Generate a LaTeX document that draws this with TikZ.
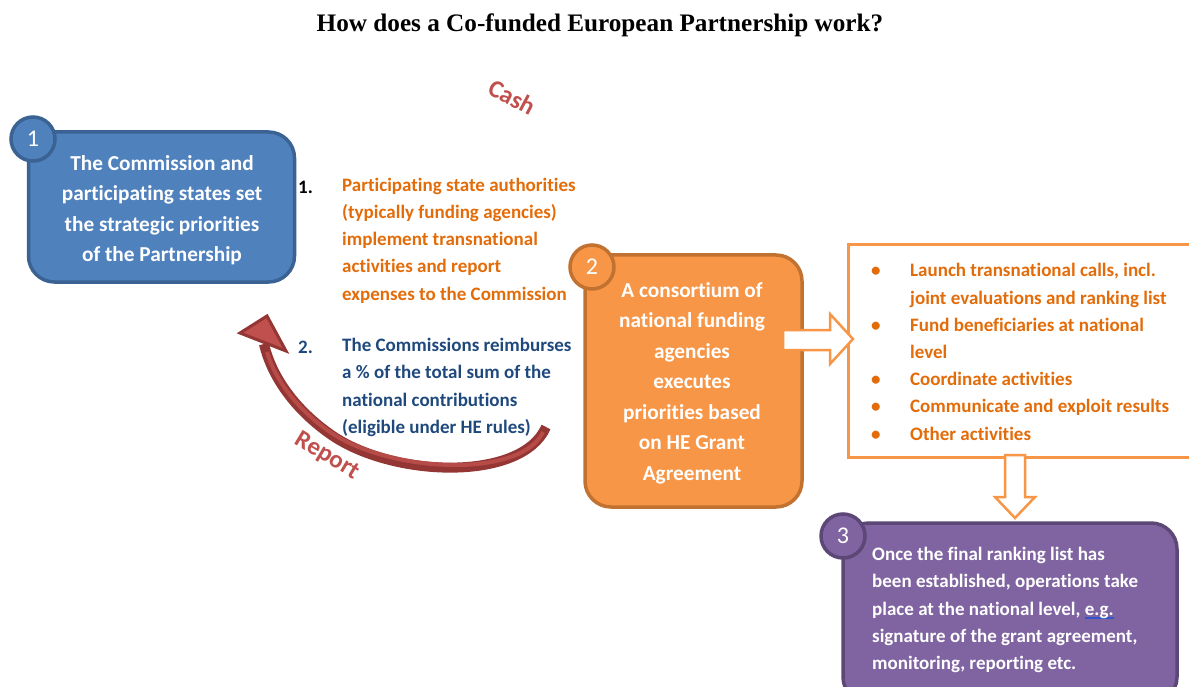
\documentclass[tikz,border=0pt]{standalone}
\usepackage{fontspec}
\setmainfont{Carlito}[Ligatures={NoCommon}]
\newfontfamily\titlefont{Liberation Serif}
\usetikzlibrary{arrows.meta}
\definecolor{bluefill}{HTML}{4F81BD}
\definecolor{bluedraw}{HTML}{3A6394}
\definecolor{orfill}{HTML}{F79646}
\definecolor{ordraw}{HTML}{C27230}
\definecolor{purfill}{HTML}{8064A2}
\definecolor{purdraw}{HTML}{5C4776}
\definecolor{ortext}{HTML}{E36C0A}
\definecolor{bluetext}{HTML}{1F497D}
\definecolor{reddark}{HTML}{943634}
\definecolor{redlight}{HTML}{C0504D}
\definecolor{ulblue}{HTML}{3355CC}
\newcommand\blueul[1]{\setbox0\hbox{#1}\rlap{\color{ulblue}\rule[-3.5pt]{\wd0}{1.4pt}}\box0}
\tikzset{
  stepbox/.style={rounded corners=26pt, line width=3.5pt, inner sep=0pt},
  numcircle/.style={circle, minimum size=44pt, line width=3.5pt, inner sep=0pt, text=white, font=\fontsize{24}{28}\selectfont},
  boxtext/.style={text=white, align=center, inner sep=0pt, font=\bfseries\fontsize{21.3}{30.5}\selectfont},
  listtext/.style={align=left, inner sep=0pt, anchor=west, font=\bfseries\fontsize{19}{27.2}\selectfont},
  blockarrow/.style={fill=white, draw=orfill, line width=2.5pt, line join=miter},
  redlabel/.style={text=redlight, font=\bfseries\fontsize{25}{28}\selectfont, inner sep=0pt}
}
\begin{document}
\begin{tikzpicture}[x=1pt,y=-1pt]
\useasboundingbox (0,0) rectangle (1189,687);
% title
\node[font=\titlefont\bfseries\fontsize{25.2}{29}\selectfont, inner sep=0pt] (title) at (600,25) {How does a Co-funded European Partnership work?};

% box 1
\node[stepbox, fill=bluefill, draw=bluedraw, minimum width=266pt, minimum height=150pt] (b1) at (161.5,207) {};
\node[boxtext] (t1) at (162,210) {The Commission and\\participating states set\\the strategic priorities\\of the Partnership};
\node[numcircle, fill=bluefill, draw=bluedraw] (c1) at (33,139) {1};

% middle lists
\node[listtext, text=black] (n1) at (298,187) {1.};
\node[listtext, text=ortext] (l1) at (342,240.5) {Participating state authorities\\(typically funding agencies)\\implement transnational\\activities and report\\expenses to the Commission};
\node[listtext, text=bluetext] (n2) at (298,347) {2.};
\node[listtext, text=bluetext] (l2) at (342,387.5) {The Commissions reimburses\\a \% of the total sum of the\\national contributions\\(eligible under HE rules)};

% box 2
\node[stepbox, fill=orfill, draw=ordraw, minimum width=217pt, minimum height=252pt] (b2) at (693.5,381) {};
\node[boxtext] (t2) at (692,383) {A consortium of\\national funding\\agencies\\executes\\priorities based\\on HE Grant\\Agreement};
\node[numcircle, fill=orfill, draw=ordraw] (c2) at (592,267) {2};

% bullet box
\node[draw=orfill, line width=3pt, fill=white, minimum width=342pt, minimum height=212pt, inner sep=0pt] (bb) at (1019,351) {};
\node[listtext, text=ortext] (bl) at (871,352) {\makebox[39pt][l]{\textbullet}Launch transnational calls, incl.\\\hspace*{39pt}joint evaluations and ranking list\\\makebox[39pt][l]{\textbullet}Fund beneficiaries at national\\\hspace*{39pt}level\\\makebox[39pt][l]{\textbullet}Coordinate activities\\\makebox[39pt][l]{\textbullet}Communicate and exploit results\\\makebox[39pt][l]{\textbullet}Other activities};

% arrow box2 -> bullet box
\coordinate (a2s) at (783,340);
\coordinate (a2t) at (853,339);
\draw[blockarrow] (783,330) -- (830,330) -- (830,314) -- (a2t) -- (830,364) -- (830,350) -- (783,350) -- cycle;

% arrow bullet box -> box 3
\coordinate (a3s) at (1015,456);
\coordinate (a3t) at (1015,518);
\draw[blockarrow] (1005,455) -- (1005,497) -- (995,497) -- (a3t) -- (1035,497) -- (1025,497) -- (1025,455) -- cycle;

% box 3
\node[stepbox, fill=purfill, draw=purdraw, minimum width=334pt, minimum height=180pt] (b3) at (1010,613) {};
\node[listtext, text=white, anchor=west] (t3) at (872,610) {Once the final ranking list has\\been established, operations take\\place at the national level, \blueul{e.g.}\\signature of the grant agreement,\\monitoring, reporting etc.};
\node[numcircle, fill=purfill, draw=purdraw] (c3) at (843,536) {3};

% curved red arrow
\coordinate (rtail) at (546,427);
\coordinate (rhead) at (264,344);
\draw[reddark, line width=10pt] (rtail) .. controls (522,482) and (392,478) .. (330,434) .. controls (296,410) and (272,378) .. (rhead);
\draw[redlight!80!reddark, line width=4pt] (543,432) .. controls (522,478) and (392,474) .. (330,432) .. controls (298,410) and (275,380) .. (267,352);
\draw[fill=redlight, draw=reddark, line width=3pt, line join=miter] (240,333) -- (267,316) -- (286,351) -- cycle;

% labels
\node[redlabel, rotate=-28] (cash) at (512,97) {Cash};
\node[redlabel, rotate=-31] (report) at (327,456) {Report};
\end{tikzpicture}
\end{document}
